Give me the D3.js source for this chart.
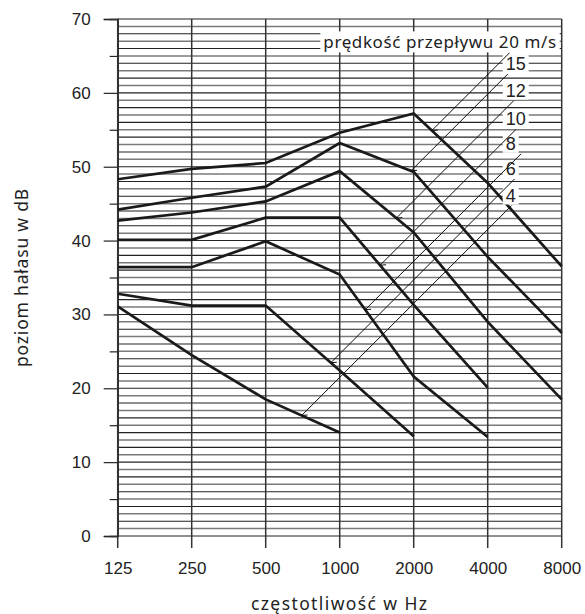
<!DOCTYPE html>
<html>
<head>
<meta charset="utf-8">
<script src="https://cdn.jsdelivr.net/npm/d3@7"></script>
<style>
  html, body { margin: 0; padding: 0; background: #fff; }
  svg { display: block; }
</style>
</head>
<body>
<svg id="chart" width="585" height="614"></svg>
<script>
// ---- data ----
const frequencies = [125, 250, 500, 1000, 2000, 4000, 8000];
const frequencyLabels = ["125", "250", "500", "1000", "2000", "4000", "8000"];
const speeds = ["20", "15", "12", "10", "8", "6", "4"];
const noise20 = [48.3, 49.7, 50.5, 54.6, 57.2, 47.8, 36.5];
const noise15 = [44.2, 45.8, 47.3, 53.2, 49.3, 37.8, 27.5];
const noise12 = [42.7, 43.8, 45.3, 49.4, 41.1, 29.0, 18.5];
const noise10 = [40.1, 40.1, 43.1, 43.1, 31.3, 20.1];
const noise8  = [36.4, 36.4, 39.9, 35.4, 21.6, 13.4];
const noise6  = [32.8, 31.2, 31.2, 22.4, 13.5];
const noise4  = [31.1, 24.5, 18.5, 14.0];
const leaderFreq = [2370, 1950, 1700, 1460, 1270, 920, 700];   // where each label's pointer meets its curve
const labelLevel = [66.9, 63.9, 60.3, 56.4, 53.1, 49.7, 46.1];  // vertical place of the labels, in dB
const yTicksMajor = [0, 10, 20, 30, 40, 50, 60, 70];
const yTicksMinor = [5, 15, 25, 35, 45, 55, 65];
const legendTitle = "prędkość przepływu 20 m/s";
const xTitle = "częstotliwość w Hz";
const yTitle = "poziom hałasu w dB";

const series = [noise20, noise15, noise12, noise10, noise8, noise6, noise4];

// ---- scales ----
const svg = d3.select("#chart");
const x = d3.scaleLog().base(2).domain([125, 8000]).range([117.7, 561.7]);
const y = d3.scaleLinear().domain([0, 70]).range([536, 19]);

const tickFont = "'Liberation Sans', Arial, sans-serif";
const titleFont = "'Noto Sans', 'Open Sans', sans-serif";

// ---- horizontal grid (every 1 dB) ----
svg.append("g").selectAll("line")
  .data(d3.range(0, 71))
  .join("line")
  .attr("x1", x(125)).attr("x2", x(8000))
  .attr("y1", d => y(d)).attr("y2", d => y(d))
  .attr("stroke", d => d % 2 === 0 ? "#222" : "#7a7a7a")
  .attr("stroke-width", d => d % 2 === 0 ? 1.1 : 1.5);

// ---- vertical grid ----
svg.append("g").selectAll("line")
  .data(frequencies)
  .join("line")
  .attr("x1", d => x(d)).attr("x2", d => x(d))
  .attr("y1", y(70)).attr("y2", y(0) + 12)
  .attr("stroke", "#333")
  .attr("stroke-width", 1.5);

// ---- y axis ----
const yAxisMajor = svg.append("g")
  .attr("transform", `translate(${x(125)},0)`)
  .call(d3.axisLeft(y).tickValues(yTicksMajor).tickSize(14).tickPadding(13).tickFormat(d3.format("d")));
const yAxisMinor = svg.append("g")
  .attr("transform", `translate(${x(125)},0)`)
  .call(d3.axisLeft(y).tickValues(yTicksMinor).tickSize(8).tickFormat(""));
[yAxisMajor, yAxisMinor].forEach(g => {
  g.select(".domain").attr("stroke", "#333").attr("stroke-width", 1.5);
  g.selectAll(".tick line").attr("stroke", "#222").attr("stroke-width", 1.2);
});
yAxisMajor.selectAll("text")
  .attr("font-family", tickFont).attr("font-size", 17).attr("fill", "#222");

// ---- x axis labels ----
const xAxis = svg.append("g")
  .attr("transform", `translate(0,${y(0)})`)
  .call(d3.axisBottom(x).tickValues(frequencies).tickSize(0).tickPadding(26)
    .tickFormat((d, i) => frequencyLabels[i]));
xAxis.select(".domain").remove();
xAxis.selectAll("text")
  .attr("font-family", tickFont).attr("font-size", 17).attr("fill", "#222");

// ---- curves ----
const line = d3.line()
  .x((d, i) => x(frequencies[i]))
  .y(d => y(d));
svg.append("g").selectAll("path")
  .data(series)
  .join("path")
  .attr("d", line)
  .attr("fill", "none")
  .attr("stroke", "#1a1a1a")
  .attr("stroke-width", 2.7)
  .attr("stroke-linejoin", "miter");

// value of a curve at any frequency (linear in log-frequency)
function valueAt(vals, f) {
  const pos = Math.log2(f / 125);
  const i = Math.min(Math.floor(pos), vals.length - 2);
  const t = pos - i;
  return vals[i] + (vals[i + 1] - vals[i]) * t;
}

// ---- labels with white boxes ----
const labelG = svg.append("g");
const labelX = x(4000) + 18;
speeds.forEach((s, k) => {
  const isLegend = k === 0;
  const t = labelG.append("text")
    .attr("x", isLegend ? x(8000) - 5 : labelX)
    .attr("y", y(labelLevel[k]))
    .attr("dominant-baseline", "central")
    .attr("text-anchor", isLegend ? "end" : "start")
    .attr("font-family", isLegend ? titleFont : tickFont)
    .attr("font-size", isLegend ? 17 : 18)
    .attr("letter-spacing", isLegend ? 0.6 : 0)
    .attr("fill", "#222")
    .text(isLegend ? legendTitle : s);
  const b = t.node().getBBox();
  labelG.insert("rect", "text")
    .attr("x", b.x - 3).attr("y", b.y + 1)
    .attr("width", b.width + 6).attr("height", b.height - 2)
    .attr("fill", "#fff");
});

// ---- leader lines ----
const leaderG = svg.append("g");
speeds.forEach((s, k) => {
  const ex = x(leaderFreq[k]);
  const ey = y(valueAt(series[k], leaderFreq[k]));
  const sy = y(labelLevel[k]) + (k === 0 ? 11 : 10);
  const sx = ex + (ey - sy);
  leaderG.append("line")
    .attr("x1", sx).attr("y1", sy).attr("x2", ex).attr("y2", ey)
    .attr("stroke", "#111").attr("stroke-width", 1);
  leaderG.append("line")
    .attr("x1", ex).attr("y1", ey).attr("x2", ex + 6).attr("y2", ey - 0.5)
    .attr("stroke", "#111").attr("stroke-width", 1);
});

// ---- titles ----
svg.append("text")
  .attr("x", x(1000)).attr("y", 603)
  .attr("text-anchor", "middle").attr("dominant-baseline", "central")
  .attr("font-family", titleFont).attr("font-size", 17.5).attr("letter-spacing", 1.4).attr("fill", "#222")
  .text(xTitle);
svg.append("text")
  .attr("transform", `translate(21,${(y(0) + y(70)) / 2}) rotate(-90)`)
  .attr("text-anchor", "middle").attr("dominant-baseline", "central")
  .attr("font-family", titleFont).attr("font-size", 17.5).attr("letter-spacing", 0.8).attr("fill", "#222")
  .text(yTitle);
</script>
</body>
</html>
